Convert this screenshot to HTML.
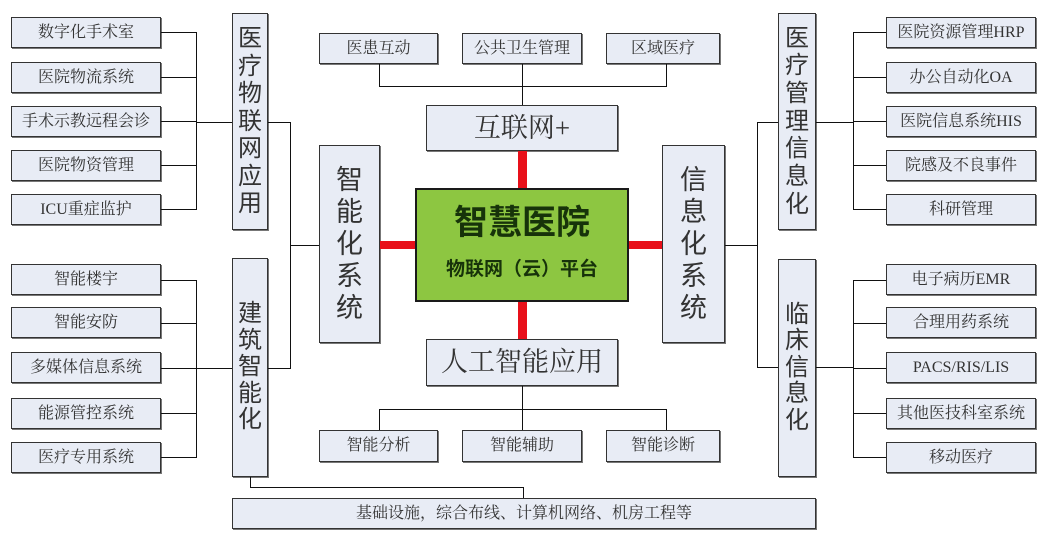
<!DOCTYPE html>
<html><head><meta charset="utf-8">
<style>
*{margin:0;padding:0;box-sizing:border-box;}
html,body{width:1045px;height:548px;background:#fff;overflow:hidden;}
body{position:relative;font-family:"Liberation Serif","Noto Serif CJK SC",serif;color:#333;}
.b{position:absolute;background:#e8ecf5;border:1px solid #333;box-shadow:1px 1px 0 #777;display:flex;align-items:center;justify-content:center;text-align:center;font-size:16px;line-height:1;}
.v{font-family:"Liberation Sans","Noto Sans CJK SC",sans-serif;color:#333;}
.h{position:absolute;height:1px;background:#111;}
.vl{position:absolute;width:1px;background:#111;}
.r{position:absolute;background:#e8101a;}
</style></head><body>

<!-- left top column -->
<div class="b" style="left:11px;top:17px;width:150px;height:31px;">数字化手术室</div>
<div class="b" style="left:11px;top:62px;width:150px;height:31px;">医院物流系统</div>
<div class="b" style="left:11px;top:106px;width:150px;height:31px;">手术示教远程会诊</div>
<div class="b" style="left:11px;top:150px;width:150px;height:31px;">医院物资管理</div>
<div class="b" style="left:11px;top:194px;width:150px;height:31px;">ICU重症监护</div>
<!-- left bottom column -->
<div class="b" style="left:11px;top:264px;width:150px;height:31px;">智能楼宇</div>
<div class="b" style="left:11px;top:307px;width:150px;height:31px;">智能安防</div>
<div class="b" style="left:11px;top:352px;width:150px;height:31px;">多媒体信息系统</div>
<div class="b" style="left:11px;top:398px;width:150px;height:31px;">能源管控系统</div>
<div class="b" style="left:11px;top:442px;width:150px;height:31px;">医疗专用系统</div>

<!-- left connectors -->
<div class="h" style="left:161px;top:32px;width:35px;"></div>
<div class="h" style="left:161px;top:77px;width:35px;"></div>
<div class="h" style="left:161px;top:121px;width:35px;"></div>
<div class="h" style="left:161px;top:165px;width:35px;"></div>
<div class="h" style="left:161px;top:209px;width:35px;"></div>
<div class="vl" style="left:196px;top:32px;height:178px;"></div>
<div class="h" style="left:196px;top:122px;width:36px;"></div>
<div class="h" style="left:161px;top:280px;width:35px;"></div>
<div class="h" style="left:161px;top:323px;width:35px;"></div>
<div class="h" style="left:161px;top:368px;width:35px;"></div>
<div class="h" style="left:161px;top:413px;width:35px;"></div>
<div class="h" style="left:161px;top:457px;width:35px;"></div>
<div class="vl" style="left:196px;top:280px;height:178px;"></div>
<div class="h" style="left:196px;top:368px;width:36px;"></div>

<!-- left vertical boxes -->
<div class="b v" style="left:232px;top:13px;width:36px;height:217px;font-size:24px;line-height:27.5px;">医<br>疗<br>物<br>联<br>网<br>应<br>用</div>
<div class="b v" style="left:232px;top:258px;width:36px;height:219px;font-size:24px;line-height:26.6px;">建<br>筑<br>智<br>能<br>化</div>

<div class="h" style="left:268px;top:122px;width:22px;"></div>
<div class="h" style="left:268px;top:368px;width:22px;"></div>
<div class="vl" style="left:290px;top:122px;height:247px;"></div>
<div class="h" style="left:290px;top:245px;width:29px;"></div>

<!-- 智能化系统 -->
<div class="b v" style="left:319px;top:145px;width:61px;height:198px;font-size:27px;line-height:32px;">智<br>能<br>化<br>系<br>统</div>
<div class="r" style="left:380px;top:241px;width:35px;height:8px;"></div>

<!-- green center -->
<div style="position:absolute;left:415px;top:188px;width:214px;height:114px;background:#8dc641;border:2px solid #1a1a1a;font-family:'Liberation Sans','Noto Sans CJK SC',sans-serif;color:#17330a;">
  <div style="position:absolute;left:0;right:0;top:14px;text-align:center;font-size:34px;font-weight:bold;line-height:38px;">智慧医院</div>
  <div style="position:absolute;left:0;right:0;top:69px;text-align:center;font-size:19px;font-weight:bold;line-height:22px;">物联网（云）平台</div>
</div>
<div class="r" style="left:629px;top:241px;width:33px;height:8px;"></div>

<!-- 信息化系统 -->
<div class="b v" style="left:662px;top:145px;width:63px;height:198px;font-size:27px;line-height:32px;">信<br>息<br>化<br>系<br>统</div>

<!-- top -->
<div class="b" style="left:319px;top:33px;width:119px;height:31px;">医患互动</div>
<div class="b" style="left:462px;top:33px;width:120px;height:31px;">公共卫生管理</div>
<div class="b" style="left:606px;top:33px;width:114px;height:31px;">区域医疗</div>
<div class="vl" style="left:379px;top:64px;height:22px;"></div>
<div class="vl" style="left:522px;top:64px;height:41px;"></div>
<div class="vl" style="left:666px;top:64px;height:22px;"></div>
<div class="h" style="left:379px;top:86px;width:288px;"></div>
<div class="b" style="left:426px;top:105px;width:192px;height:46px;font-size:27px;">互联网+</div>
<div class="r" style="left:518px;top:151px;width:9px;height:37px;"></div>

<!-- bottom center -->
<div class="r" style="left:518px;top:302px;width:9px;height:37px;"></div>
<div class="b" style="left:426px;top:339px;width:192px;height:47px;font-size:27px;">人工智能应用</div>
<div class="vl" style="left:522px;top:386px;height:23px;"></div>
<div class="h" style="left:379px;top:409px;width:288px;"></div>
<div class="vl" style="left:379px;top:409px;height:21px;"></div>
<div class="vl" style="left:522px;top:409px;height:21px;"></div>
<div class="vl" style="left:666px;top:409px;height:21px;"></div>
<div class="b" style="left:319px;top:430px;width:119px;height:32px;">智能分析</div>
<div class="b" style="left:462px;top:430px;width:120px;height:32px;">智能辅助</div>
<div class="b" style="left:606px;top:430px;width:114px;height:32px;">智能诊断</div>

<!-- bottom infra -->
<div class="vl" style="left:250px;top:477px;height:10px;"></div>
<div class="h" style="left:250px;top:487px;width:274px;"></div>
<div class="vl" style="left:523px;top:487px;height:11px;"></div>
<div class="b" style="left:232px;top:498px;width:584px;height:31px;">基础设施，综合布线、计算机网络、机房工程等</div>

<!-- right side -->
<div class="h" style="left:725px;top:245px;width:32px;"></div>
<div class="vl" style="left:757px;top:122px;height:246px;"></div>
<div class="h" style="left:757px;top:122px;width:21px;"></div>
<div class="h" style="left:757px;top:367px;width:21px;"></div>

<div class="b v" style="left:778px;top:13px;width:38px;height:217px;font-size:24px;line-height:27.7px;">医<br>疗<br>管<br>理<br>信<br>息<br>化</div>
<div class="b v" style="left:778px;top:259px;width:38px;height:218px;font-size:24px;line-height:26.6px;">临<br>床<br>信<br>息<br>化</div>

<div class="h" style="left:816px;top:122px;width:37px;"></div>
<div class="h" style="left:816px;top:367px;width:37px;"></div>
<div class="vl" style="left:853px;top:32px;height:178px;"></div>
<div class="vl" style="left:853px;top:280px;height:178px;"></div>
<div class="h" style="left:853px;top:32px;width:33px;"></div>
<div class="h" style="left:853px;top:77px;width:33px;"></div>
<div class="h" style="left:853px;top:121px;width:33px;"></div>
<div class="h" style="left:853px;top:165px;width:33px;"></div>
<div class="h" style="left:853px;top:209px;width:33px;"></div>
<div class="h" style="left:853px;top:280px;width:33px;"></div>
<div class="h" style="left:853px;top:323px;width:33px;"></div>
<div class="h" style="left:853px;top:368px;width:33px;"></div>
<div class="h" style="left:853px;top:413px;width:33px;"></div>
<div class="h" style="left:853px;top:457px;width:33px;"></div>

<div class="b" style="left:886px;top:17px;width:150px;height:31px;">医院资源管理HRP</div>
<div class="b" style="left:886px;top:62px;width:150px;height:31px;">办公自动化OA</div>
<div class="b" style="left:886px;top:106px;width:150px;height:31px;">医院信息系统HIS</div>
<div class="b" style="left:886px;top:150px;width:150px;height:31px;">院感及不良事件</div>
<div class="b" style="left:886px;top:194px;width:150px;height:31px;">科研管理</div>
<div class="b" style="left:886px;top:264px;width:150px;height:31px;">电子病历EMR</div>
<div class="b" style="left:886px;top:307px;width:150px;height:31px;">合理用药系统</div>
<div class="b" style="left:886px;top:352px;width:150px;height:31px;">PACS/RIS/LIS</div>
<div class="b" style="left:886px;top:398px;width:150px;height:31px;">其他医技科室系统</div>
<div class="b" style="left:886px;top:442px;width:150px;height:31px;">移动医疗</div>

</body></html>
